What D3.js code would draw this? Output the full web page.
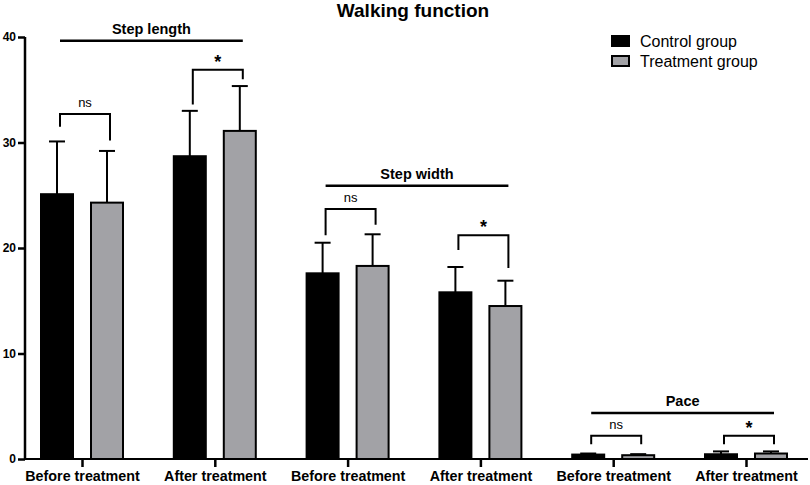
<!DOCTYPE html>
<html>
<head>
<meta charset="utf-8">
<script src="https://cdn.jsdelivr.net/npm/d3@7"></script>
<style>
  body { margin: 0; background: #fff; }
  svg { font-family: "Liberation Sans", Arial, sans-serif; }
</style>
</head>
<body>
<div id="chart"></div>
<script>
// chart data
var categories = ["Before treatment", "After treatment", "Before treatment", "After treatment", "Before treatment", "After treatment"];
var series = ["Control group", "Treatment group"];
var controlMean = [25.1, 28.7, 17.6, 15.8, 0.42, 0.45];
var controlSD = [5.0, 4.3, 2.9, 2.4, 0.1, 0.27];
var treatMean = [24.3, 31.1, 18.3, 14.5, 0.36, 0.52];
var treatSD = [4.9, 4.25, 3.0, 2.4, 0.1, 0.2];
var yTicks = [0, 10, 20, 30, 40];

// comparison brackets (one per category) and measure groups (pairs of categories)
var sigLabels = ["ns", "*", "ns", "*", "ns", "*"];
var bracketTop = [32.7, 36.9, 23.7, 21.2, 2.2, 2.2];
var bracketLeftEnd = [31.5, 33.6, 21.2, 19.8, 1.4, 1.4];
var bracketRightEnd = [30.2, 36.0, 22.2, 18.1, 1.4, 1.4];
var groupNames = ["Step length", "Step width", "Pace"];
var groupLevel = [39.65, 25.9, 4.36];

var w = 810, h = 485;
var svg = d3.select("#chart").append("svg")
    .attr("width", w)
    .attr("height", h);

var x = d3.scalePoint()
    .domain(d3.range(categories.length))
    .range([82, 746]);

var xSub = d3.scalePoint()
    .domain(series)
    .range([-25, 25]);

var y = d3.scaleLinear()
    .domain([0, 40])
    .range([459, 37]);

var colors = { "Control group": "#000000", "Treatment group": "#a2a2a6" };
var barW = 32, capW = 16;

var rows = [];
categories.forEach(function(c, i) {
    rows.push({ i: i, s: series[0], mean: controlMean[i], sd: controlSD[i] });
    rows.push({ i: i, s: series[1], mean: treatMean[i], sd: treatSD[i] });
});

// error bars (upper only)
svg.selectAll("line.err")
    .data(rows).enter()
    .append("line")
    .attr("class", "err")
    .attr("x1", function(d) { return x(d.i) + xSub(d.s); })
    .attr("x2", function(d) { return x(d.i) + xSub(d.s); })
    .attr("y1", function(d) { return y(d.mean); })
    .attr("y2", function(d) { return y(d.mean + d.sd); })
    .attr("stroke", "#000").attr("stroke-width", 2);

svg.selectAll("line.cap")
    .data(rows).enter()
    .append("line")
    .attr("class", "cap")
    .attr("x1", function(d) { return x(d.i) + xSub(d.s) - capW / 2; })
    .attr("x2", function(d) { return x(d.i) + xSub(d.s) + capW / 2; })
    .attr("y1", function(d) { return y(d.mean + d.sd); })
    .attr("y2", function(d) { return y(d.mean + d.sd); })
    .attr("stroke", "#000").attr("stroke-width", 2);

// bars
svg.selectAll("rect.bar")
    .data(rows).enter()
    .append("rect")
    .attr("class", "bar")
    .attr("x", function(d) { return x(d.i) + xSub(d.s) - barW / 2; })
    .attr("y", function(d) { return y(d.mean); })
    .attr("width", barW)
    .attr("height", function(d) { return y(0) - y(d.mean); })
    .attr("fill", function(d) { return colors[d.s]; })
    .attr("stroke", "#000").attr("stroke-width", 2);

// y axis
var yAxis = svg.append("g")
    .attr("transform", "translate(25,0)")
    .call(d3.axisLeft(y).tickValues(yTicks).tickSize(7).tickPadding(2));
yAxis.select(".domain").attr("stroke-width", 2.5).attr("d", "M0," + y(40) + "V" + y(0));
yAxis.selectAll(".tick line").attr("stroke-width", 2.5);
yAxis.selectAll(".tick text")
    .attr("font-size", 12).attr("font-weight", "bold").attr("fill", "#000");

// x axis
var xAxis = svg.append("g")
    .attr("transform", "translate(0," + y(0) + ")")
    .call(d3.axisBottom(x).tickSize(8).tickPadding(4)
        .tickFormat(function(i) { return categories[i]; }));
xAxis.select(".domain").attr("stroke-width", 2).attr("d", "M24,0H808");
xAxis.selectAll(".tick line").attr("stroke-width", 2.5);
xAxis.selectAll(".tick text")
    .attr("font-size", 14.3).attr("font-weight", "bold").attr("fill", "#000");

// significance brackets
var off = 3;
categories.forEach(function(c, i) {
    var xl = x(i) + xSub(series[0]) + off;
    var xr = x(i) + xSub(series[1]) + off;
    svg.append("path")
        .attr("d", "M" + xl + "," + y(bracketLeftEnd[i]) + "V" + y(bracketTop[i]) +
            "H" + xr + "V" + y(bracketRightEnd[i]))
        .attr("fill", "none").attr("stroke", "#000").attr("stroke-width", 2);
    var isStar = sigLabels[i] === "*";
    svg.append("text")
        .attr("x", (xl + xr) / 2)
        .attr("y", y(bracketTop[i]) - (isStar ? 2 : 7))
        .attr("text-anchor", "middle")
        .attr("font-size", isStar ? 18 : 13)
        .attr("font-weight", isStar ? "bold" : "normal")
        .text(sigLabels[i]);
});

// measure group lines and titles
groupNames.forEach(function(g, k) {
    var x1 = x(2 * k) + xSub(series[0]) + off;
    var x2 = x(2 * k + 1) + xSub(series[1]) + off;
    svg.append("line")
        .attr("x1", x1).attr("x2", x2)
        .attr("y1", y(groupLevel[k])).attr("y2", y(groupLevel[k]))
        .attr("stroke", "#000").attr("stroke-width", 2.5);
    svg.append("text")
        .attr("x", (x1 + x2) / 2)
        .attr("y", y(groupLevel[k]) - 7)
        .attr("text-anchor", "middle")
        .attr("font-size", 14.5).attr("font-weight", "bold")
        .text(g);
});

// title
svg.append("text")
    .attr("x", 413).attr("y", 17)
    .attr("text-anchor", "middle")
    .attr("font-size", 19).attr("font-weight", "bold")
    .text("Walking function");

// legend
var legend = svg.selectAll("g.legend")
    .data(series).enter()
    .append("g")
    .attr("class", "legend")
    .attr("transform", function(d, i) { return "translate(612," + (36 + i * 20) + ")"; });
legend.append("rect")
    .attr("width", 17).attr("height", 10)
    .attr("fill", function(d) { return colors[d]; })
    .attr("stroke", "#000").attr("stroke-width", 2);
legend.append("text")
    .attr("x", 28).attr("y", 11)
    .attr("font-size", 16)
    .text(function(d) { return d; });
</script>
</body>
</html>
